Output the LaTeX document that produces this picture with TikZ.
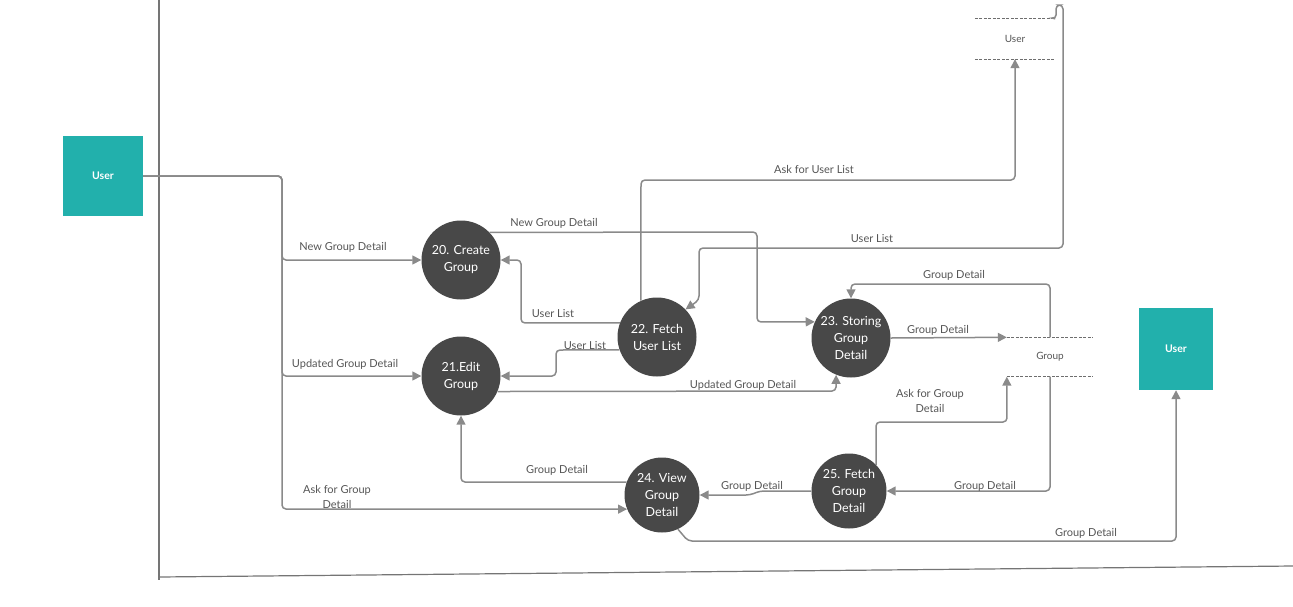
\documentclass[tikz,border=0pt]{standalone}
\usepackage{fontspec}
\setmainfont{Lato}
\usepackage{tikz}
\definecolor{userteal}{RGB}{34,176,172}
\definecolor{procgrey}{RGB}{72,72,72}
\definecolor{flowgrey}{RGB}{138,138,138}
\definecolor{textgrey}{RGB}{85,85,85}
\usetikzlibrary{arrows.meta}
\usetikzlibrary{positioning}

\begin{document}
\begin{tikzpicture}[x=1pt, y=-1pt]
        \tikzset{proc/.style={circle, fill=procgrey, text=white, minimum size=79pt, inner sep=0pt,
                        align=center, font=\fontsize{12.5}{17}\selectfont},
                ext/.style={fill=userteal, text=white, inner sep=0pt, font=\fontsize{10.5}{12}\selectfont\bfseries},
                store/.style={minimum width=80pt, minimum height=40pt, inner sep=0pt, text=textgrey,
                        font=\fontsize{10}{12}\selectfont},
                storeline/.style={draw=flowgrey!80!black, line width=1.3pt, dash pattern=on 3pt off 1.5pt},
                lbl/.style={text=textgrey, align=center, inner sep=1pt, font=\fontsize{11}{15.5}\selectfont},
                >={Triangle[length=9pt, width=9pt]},
                flow/.style={draw=flowgrey, line width=1.5pt, rounded corners=4pt}}

        \useasboundingbox (0,0) rectangle (1293,606);

        % frame
        \draw[flowgrey!85!black, line width=1.2pt] (159,0) -- (159,580);
        \draw[flowgrey!85!black, line width=1.2pt] (159,577) -- (1293,566);

        % entities and stores
        \node[ext, minimum width=80pt, minimum height=80pt] (user) at (103,176) {User};
        \node[ext, minimum width=74pt, minimum height=82pt] (user2) at (1176,349) {User};
        \node[store] (userstore) at (1015,39) {User};
        \node[store, minimum width=86pt, minimum height=39pt] (groupstore) at (1050,357) {Group};
        \draw[storeline] (userstore.north west) -- (userstore.north east);
        \draw[storeline] (userstore.south west) -- (userstore.south east);
        \draw[storeline] (groupstore.north west) -- (groupstore.north east);
        \draw[storeline] (groupstore.south west) -- (groupstore.south east);

        % processes
        \node[proc] (p20) at (461,260) {20. Create\\Group};
        \node[proc] (p21) at (461,376) {21.Edit\\Group};
        \node[proc] (p22) at (657,337) {22. Fetch\\User List};
        \node[proc] (p23) at (851,338) {23. Storing\\Group\\Detail};
        \node[proc, minimum size=75pt] (p24) at (662,495) {24. View\\Group\\Detail};
        \node[proc, minimum size=75pt] (p25) at (849,491) {25. Fetch\\Group\\Detail};

        % flows
        \draw[flow, ->] (user.east) -- (282,176) -- (282,260) -- (p20.west);
        \draw[flow, ->] (user.east) -- (282,176) -- (282,376) -- (p21.west);
        \draw[flow, ->] (user.east) -- (282,176) -- (282,509) -- (p24.202);
        \draw[flow, ->] (p20.44) -- (757,232) -- (757,322) -- (p23.156);
        \draw[flow, ->] (p22.114) -- (641,180) -- (1015,180) -- (userstore.south);
        \draw[flow, ->] (userstore.north east) -- (1056,19) -- (1056,5) -- (1063,5) -- (1063,248)
                -- (699,248) -- (699,300) -- (p22.44);
        \draw[flow, ->] (p22.159) -- (521,323) -- (521,260) -- (p20.east);
        \draw[flow, ->] (p22.199) -- (556,350) -- (556,376) -- (p21.east);
        \draw[flow, ->] (p21.337) -- (836,391) -- (p23.248);
        \draw[flow, ->] (p23.east) -- (groupstore.north west);
        \draw[flow, ->] (groupstore.north) -- (1050,284) -- (851,284) -- (p23.north);
        \draw[flow, ->] (p25.44) -- (876,422) -- (1007,422) -- (groupstore.south west);
        \draw[flow, ->] (groupstore.south) -- (1050,491) -- (p25.east);
        \draw[flow, ->] (p25.west) -- (760,491) -- (750,495) -- (p24.east);
        \draw[flow, ->] (p24.160) -- (461,482) -- (p21.south);
        \draw[flow, ->] (p24.295) -- (688,541) -- (1176,541) -- (user2.south);

        % flow labels
        \node[lbl] (l1) at (343,247) {New Group Detail};
        \node[lbl] (l2) at (345,364) {Updated Group Detail};
        \node[lbl] (l3) at (337,497) {Ask for Group\\Detail};
        \node[lbl] (l4) at (554,223) {New Group Detail};
        \node[lbl] (l5) at (553,314) {User List};
        \node[lbl] (l6) at (585,346) {User List};
        \node[lbl] (l7) at (743,385) {Updated Group Detail};
        \node[lbl] (l8) at (814,169) {Ask for User List};
        \node[lbl] (l9) at (872,239) {User List};
        \node[lbl] (l10) at (954,275) {Group Detail};
        \node[lbl] (l11) at (938,330) {Group Detail};
        \node[lbl] (l12) at (930,401) {Ask for Group\\Detail};
        \node[lbl] (l13) at (985,486) {Group Detail};
        \node[lbl] (l14) at (752,486) {Group Detail};
        \node[lbl] (l15) at (557,470) {Group Detail};
        \node[lbl] (l16) at (1086,533) {Group Detail};

    \end{tikzpicture}
\end{document}
